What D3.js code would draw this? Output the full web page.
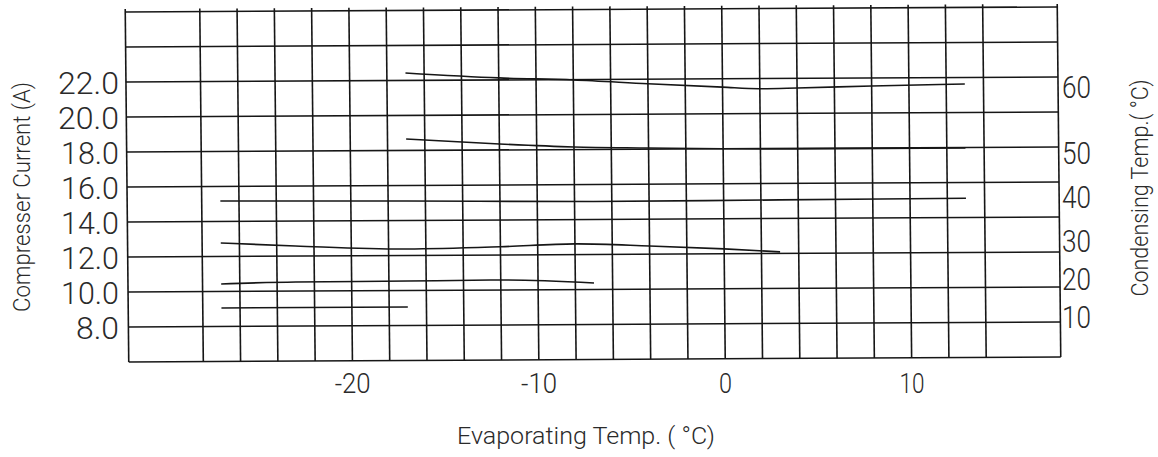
<!DOCTYPE html>
<html><head><meta charset="utf-8">
<script src="https://cdn.jsdelivr.net/npm/d3@7"></script>
<style>
html,body{margin:0;padding:0;background:#fff;}
svg{display:block;}
text{font-family:Roboto,"Liberation Sans",sans-serif;font-weight:300;fill:#2a2a2a;}
</style></head>
<body>
<svg id="chart" width="1158" height="457"></svg>
<script>
// ---- data ----
const xTicks = [-20, -10, 0, 10];
const xTickLabels = ["-20", "-10", "0", "10"];
const yTicks = [8, 10, 12, 14, 16, 18, 20, 22];
const yTickLabels = ["8.0", "10.0", "12.0", "14.0", "16.0", "18.0", "20.0", "22.0"];
const xGridValues = d3.range(-28, 15, 2);
const yGridValues = d3.range(6, 27, 2);

// condensing temperature curves: evaporating temp (°C) vs compressor current (A)
const evap60 = [-17, -12, -8, -4, 0, 2, 4, 8, 13];
const amps60 = [22.43, 22.12, 21.98, 21.74, 21.52, 21.42, 21.45, 21.54, 21.63];
const evap50 = [-17, -12, -8, -4, 0, 4, 13];
const amps50 = [18.66, 18.34, 18.15, 18.07, 18.0, 17.97, 17.97];
const evap40 = [-27, -17, -7, 3, 13];
const amps40 = [15.17, 15.11, 15.03, 15.06, 15.1];
const evap30 = [-27, -23, -17, -12, -8, -4, 0, 3];
const amps30 = [12.77, 12.58, 12.37, 12.47, 12.61, 12.47, 12.28, 12.09];
const evap20 = [-27, -23, -17, -12, -7];
const amps20 = [10.43, 10.52, 10.54, 10.57, 10.37];
const evap10 = [-27, -17];
const amps10 = [9.06, 9.06];

// right-side condensing temperature labels and the current level where each sits
const condLabels = ["10", "20", "30", "40", "50", "60"];
const condLabelAt = [8.57, 10.77, 12.91, 15.43, 17.97, 21.74];

const series = [
  {x: evap60, y: amps60}, {x: evap50, y: amps50}, {x: evap40, y: amps40},
  {x: evap30, y: amps30}, {x: evap20, y: amps20}, {x: evap10, y: amps10}
];

// ---- layout ----
const svg = d3.select("#chart");
const x = d3.scaleLinear().domain([-32, 18]).range([127, 1059]);
const y = d3.scaleLinear().domain([6, 26]).range([362, 12]);

// slight scan skew of the drawing
const plot = svg.append("g")
  .attr("transform", "matrix(1,-0.0054,0.01,1,-1.87,0.68)");

const stroke = "#161616";
plot.selectAll("line.vg").data(xGridValues).join("line")
  .attr("x1", d => x(d)).attr("x2", d => x(d))
  .attr("y1", y(26) - 3).attr("y2", y(6))
  .attr("stroke", stroke).attr("stroke-width", 1.6);
plot.selectAll("line.hg").data(yGridValues).join("line")
  .attr("x1", x(-32)).attr("x2", x(18))
  .attr("y1", d => y(d)).attr("y2", d => y(d))
  .attr("stroke", stroke).attr("stroke-width", 1.6);
plot.selectAll("line.fr").data([-32, 18]).join("line")
  .attr("x1", d => x(d)).attr("x2", d => x(d))
  .attr("y1", y(26) - 3).attr("y2", y(6))
  .attr("stroke", stroke).attr("stroke-width", 1.6);

const line = d3.line().x(d => x(d[0])).y(d => y(d[1])).curve(d3.curveMonotoneX);
plot.selectAll("path.curve").data(series).join("path")
  .attr("d", s => line(s.x.map((v, i) => [v, s.y[i]])))
  .attr("fill", "none").attr("stroke", stroke).attr("stroke-width", 1.6);

const fit = (el, w) => el.attr("textLength", w).attr("lengthAdjust", "spacingAndGlyphs");

// left tick labels
svg.selectAll("text.yl").data(yTicks).join("text")
  .attr("x", 119).attr("y", d => y(d) + 12)
  .attr("text-anchor", "end").attr("font-size", 31)
  .text((d, i) => yTickLabels[i])
  .each(function(d, i) {
    const s = yTickLabels[i];
    fit(d3.select(this), s.length === 3 ? 43 : (s[0] === "1" ? 58 : 61));
  });

// bottom tick labels
svg.selectAll("text.xl").data(xTicks).join("text")
  .attr("x", d => x(d) + 2).attr("y", 393)
  .attr("text-anchor", "middle").attr("font-size", 28)
  .text((d, i) => xTickLabels[i])
  .each(function(d, i) {
    const s = xTickLabels[i];
    const digits = s.replace("-", "").length;
    fit(d3.select(this), (s[0] === "-" ? 11 : 0) + 12 * digits + 1);
  });

// right condensing temperature labels
svg.selectAll("text.rl").data(condLabelAt).join("text")
  .attr("x", 1062).attr("y", d => y(d) + 11)
  .attr("font-size", 32)
  .text((d, i) => condLabels[i])
  .each(function() { fit(d3.select(this), 29); });

// titles
fit(svg.append("text")
  .attr("x", 586).attr("y", 444)
  .attr("text-anchor", "middle").attr("font-size", 24)
  .text("Evaporating Temp. ( °C)"), 258);

fit(svg.append("text")
  .attr("transform", "translate(30,197) rotate(-90)")
  .attr("text-anchor", "middle").attr("font-size", 24)
  .text("Compresser Current (A)"), 230);

fit(svg.append("text")
  .attr("transform", "translate(1148,188) rotate(-90)")
  .attr("text-anchor", "middle").attr("font-size", 24)
  .text("Condensing Temp.( °C)"), 217);
</script>
</body></html>
